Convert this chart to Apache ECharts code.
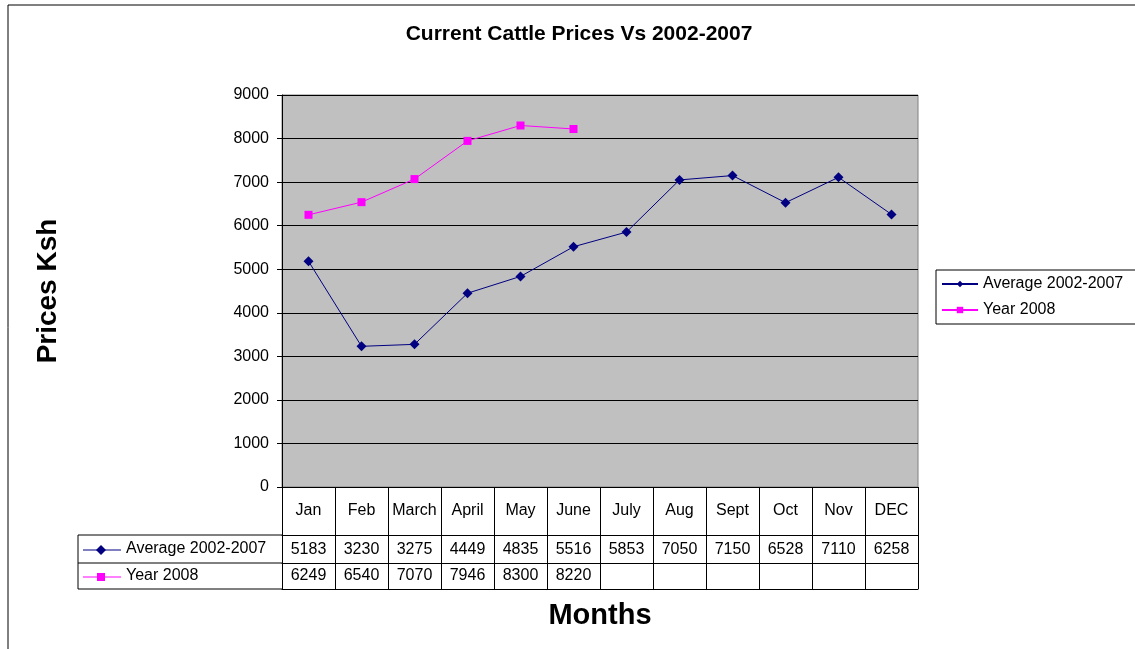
<!DOCTYPE html>
<html><head><meta charset="utf-8">
<script src="https://cdn.jsdelivr.net/npm/echarts@6/dist/echarts.min.js"></script>
<style>html,body{margin:0;padding:0;background:#fff}#c{width:1135px;height:649px}</style>
</head><body><div id="c"></div>
<script>
const months = ['Jan','Feb','March','April','May','June','July','Aug','Sept','Oct','Nov','DEC'];
const avg = [5183,3230,3275,4449,4835,5516,5853,7050,7150,6528,7110,6258];
const y2008 = [6249,6540,7070,7946,8300,8220,null,null,null,null,null,null];
const seriesNames = ['Average 2002-2007','Year 2008'];
const yTicks = {min:0,max:9000,interval:1000};

const F = 'Liberation Sans, Arial, sans-serif';
const chart = echarts.init(document.getElementById('c'));
const lbl = {fontFamily:F,fontSize:16,color:'#000'};
function tableAxis(offset, vals, margin, extra){
  return Object.assign({
    type:'category', data:months, position:'bottom', offset:offset, gridIndex:0,
    axisLine:{show:true,lineStyle:{color:'#000',width:1}},
    axisTick:{show:false},
    axisLabel: vals ? Object.assign({interval:0,margin:margin,formatter:(v,i)=> (vals[i]==null?'':String(vals[i]))},lbl) : {show:false},
    splitLine:{show:false}
  }, extra||{});
}
chart.setOption({
  animation:false,
  textStyle:{fontFamily:F},
  title:{text:'Current Cattle Prices Vs 2002-2007',left:574,top:19,textAlign:'center',
    textStyle:{fontFamily:F,fontSize:21,fontWeight:'bold',color:'#000'}},
  legend:{data:seriesNames,orient:'vertical',left:936,top:270,itemWidth:36,itemHeight:8,itemGap:10,
    padding:[6,30,6,5],borderColor:'#000',borderWidth:1,backgroundColor:'#fff',
    textStyle:{fontFamily:F,fontSize:16,color:'#000'}},
  grid:{left:282,right:217,top:95,bottom:162,show:true,backgroundColor:'#c0c0c0',borderColor:'#808080',borderWidth:1},
  xAxis:[
    {type:'category',data:months,boundaryGap:true,
      axisLine:{show:true,lineStyle:{color:'#000'}},
      axisTick:{show:true,interval:0,length:102,lineStyle:{color:'#000'}},
      axisLabel:Object.assign({interval:0,margin:16},lbl)},
    tableAxis(48, avg, 7),
    tableAxis(76, y2008, 5),
    tableAxis(102, null, 0, {name:'Months',nameLocation:'middle',nameGap:12,
      nameTextStyle:{fontFamily:F,fontSize:29,fontWeight:'bold',color:'#000'}})
  ],
  yAxis:{type:'value',min:yTicks.min,max:yTicks.max,interval:yTicks.interval,
    axisLine:{show:true,lineStyle:{color:'#000'}},
    axisTick:{show:true,length:5,lineStyle:{color:'#000'}},
    axisLabel:Object.assign({margin:13,formatter:v=>String(v)},lbl),
    splitLine:{show:true,lineStyle:{color:'#000',width:1}},
    name:'Prices Ksh',nameLocation:'middle',nameGap:220,nameRotate:90,
    nameTextStyle:{fontFamily:F,fontSize:28,fontWeight:'bold',color:'#000'}},
  series:[
    {name:seriesNames[0],type:'line',data:avg,symbol:'diamond',symbolSize:10,
      lineStyle:{color:'#000080',width:1},itemStyle:{color:'#000080'}},
    {name:seriesNames[1],type:'line',data:y2008,symbol:'rect',symbolSize:8,connectNulls:false,
      lineStyle:{color:'#ff00ff',width:1},itemStyle:{color:'#ff00ff'}}
  ],
  graphic:[
    {type:'rect',shape:{x:8,y:5,width:1140,height:660},style:{fill:'none',stroke:'#000',lineWidth:1},silent:true},
    {type:'line',shape:{x1:78,y1:535,x2:282,y2:535},style:{stroke:'#000'}},
    {type:'line',shape:{x1:78,y1:563,x2:282,y2:563},style:{stroke:'#000'}},
    {type:'line',shape:{x1:78,y1:589,x2:282,y2:589},style:{stroke:'#000'}},
    {type:'line',shape:{x1:78,y1:535,x2:78,y2:589},style:{stroke:'#000'}},
    {type:'line',shape:{x1:83,y1:550,x2:121,y2:550},style:{stroke:'#000080',lineWidth:1}},
    {type:'polygon',shape:{points:[[101,545],[106,550],[101,555],[96,550]]},style:{fill:'#000080'}},
    {type:'text',left:126,top:541,style:{text:seriesNames[0],font:'16px '+F,fill:'#000'}},
    {type:'line',shape:{x1:83,y1:577,x2:121,y2:577},style:{stroke:'#ff00ff',lineWidth:1}},
    {type:'rect',shape:{x:97,y:573,width:8,height:8},style:{fill:'#ff00ff'}},
    {type:'text',left:126,top:568,style:{text:seriesNames[1],font:'16px '+F,fill:'#000'}}
  ]
});
</script></body></html>
